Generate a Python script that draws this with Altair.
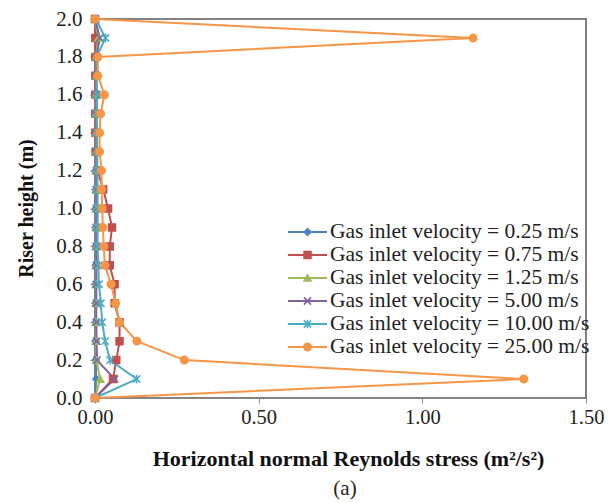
import altair as alt
import pandas as pd

heights = [0.0, 0.1, 0.2, 0.3, 0.4, 0.5, 0.6, 0.7, 0.8, 0.9, 1.0,
           1.1, 1.2, 1.3, 1.4, 1.5, 1.6, 1.7, 1.8, 1.9, 2.0]

labels = [
    "Gas inlet velocity = 0.25 m/s",
    "Gas inlet velocity = 0.75 m/s",
    "Gas inlet velocity = 1.25 m/s",
    "Gas inlet velocity = 5.00 m/s",
    "Gas inlet velocity = 10.00 m/s",
    "Gas inlet velocity = 25.00 m/s",
]

v_025 = [0.0, 0.004, 0.002, 0.002, 0.002, 0.002, 0.002, 0.002, 0.002, 0.002, 0.002,
         0.002, 0.002, 0.002, 0.002, 0.002, 0.002, 0.002, 0.002, 0.005, 0.0]
v_075 = [0.0, 0.055, 0.065, 0.075, 0.075, 0.060, 0.060, 0.045, 0.045, 0.052, 0.040,
         0.025, 0.008, 0.002, 0.001, 0.001, 0.001, 0.001, 0.001, 0.001, 0.0]
v_125 = [0.0, 0.016, 0.004, 0.003, 0.003, 0.003, 0.003, 0.003, 0.003, 0.003, 0.003,
         0.003, 0.003, 0.003, 0.003, 0.003, 0.003, 0.003, 0.003, 0.010, 0.0]
v_500 = [0.0, 0.060, 0.006, 0.005, 0.004, 0.004, 0.004, 0.004, 0.004, 0.004, 0.004,
         0.004, 0.004, 0.004, 0.004, 0.004, 0.004, 0.004, 0.004, 0.015, 0.0]
v_1000 = [0.0, 0.127, 0.046, 0.031, 0.022, 0.018, 0.012, 0.010, 0.008, 0.008, 0.008,
          0.008, 0.007, 0.007, 0.006, 0.006, 0.006, 0.005, 0.005, 0.032, 0.002]
v_2500 = [0.0, 1.31, 0.273, 0.128, 0.075, 0.063, 0.049, 0.030, 0.027, 0.024, 0.022,
          0.020, 0.020, 0.014, 0.014, 0.017, 0.029, 0.009, 0.009, 1.155, 0.0]

series_values = [v_025, v_075, v_125, v_500, v_1000, v_2500]

x_ticks = [0.0, 0.5, 1.0, 1.5]
y_ticks = [0.0, 0.2, 0.4, 0.6, 0.8, 1.0, 1.2, 1.4, 1.6, 1.8, 2.0]

rows = []
for lab, vals in zip(labels, series_values):
    for h, v in zip(heights, vals):
        rows.append({"series": lab, "h": h, "v": v})
df = pd.DataFrame(rows)
leg_df = pd.DataFrame({"series": labels})
cap_df = pd.DataFrame({"t": ["(a)"]})

FONT = "Liberation Serif"
colors = ["#4F81BD", "#C0504D", "#9BBB59", "#8064A2", "#4BACC6", "#F79646"]
X_PATH = "M-1,-1L1,1M-1,1L1,-1"
STAR_PATH = "M-1,-1L1,1M-1,1L1,-1M0,-1.2L0,1.2"
shapes = ["diamond", "square", "triangle-up", X_PATH, STAR_PATH, "circle"]
sizes = [45, 55, 60, 45, 60, 85]

color_scale = alt.Scale(domain=labels, range=colors)
shape_scale = alt.Scale(domain=labels, range=shapes)
size_scale = alt.Scale(domain=labels, range=sizes)

x_enc = alt.X(
    "v:Q",
    scale=alt.Scale(domain=[0, 1.5], nice=False),
    axis=alt.Axis(values=x_ticks, format=".2f", labelFlush=False, labelFontSize=20.5,
                  title="Horizontal normal Reynolds stress (m²/s²)",
                  labelPadding=4, titleX=253, titleY=67, titleFontSize=22,
                  titleBaseline="alphabetic", titleAlign="center"),
)
y_axis = alt.Axis(values=y_ticks, format=".1f", title="Riser height (m)",
                  labelFlush=False, labelPadding=8, titleX=-63, titleY=189,
                  titleAngle=270, titleFontSize=20,
                  titleBaseline="alphabetic", titleAlign="center")
y_line = alt.Y("h:Q", scale=alt.Scale(domain=[0, 2], nice=False), axis=y_axis)
y_pts = alt.Y("h:Q", scale=alt.Scale(domain=[0, 2], nice=False), axis=None)

lines = alt.Chart(df).mark_line(strokeWidth=2).encode(
    x=x_enc, y=y_line,
    color=alt.Color("series:N", scale=color_scale, legend=None),
    order=alt.Order("h:Q"),
)

pt_common = dict(
    fill=alt.Fill("series:N", scale=color_scale, legend=None),
    stroke=alt.Stroke("series:N", scale=color_scale, legend=None),
    shape=alt.Shape("series:N", scale=shape_scale, legend=None),
    size=alt.Size("series:N", scale=size_scale, legend=None),
)

points = alt.Chart(df).mark_point(filled=True, opacity=1, strokeWidth=1.6).encode(
    x=alt.X("v:Q"), y=y_pts, **pt_common
)

leg_y = alt.Y("series:N", sort=labels,
              scale=alt.Scale(type="point", range=[213, 328], padding=0), axis=None)

leg_rule = alt.Chart(leg_df).mark_rule(strokeWidth=2).encode(
    x=alt.value(193), x2=alt.value(232), y=leg_y,
    color=alt.Color("series:N", scale=color_scale, legend=None),
)
leg_pts = alt.Chart(leg_df).mark_point(filled=True, opacity=1, strokeWidth=1.6).encode(
    x=alt.value(212.5), y=leg_y, **pt_common
)
leg_txt = alt.Chart(leg_df).mark_text(
    align="left", baseline="middle", font=FONT, fontSize=21.5, color="#222222"
).encode(x=alt.value(235), y=leg_y, text="series:N")

caption = alt.Chart(cap_df).mark_text(
    align="center", baseline="middle", font=FONT, fontSize=21, color="#222222"
).encode(x=alt.value(250), y=alt.value(470), text="t:N")

chart = (
    alt.layer(lines, points, leg_rule, leg_pts, leg_txt, caption)
    .resolve_scale(y="independent")
    .properties(
        width=491, height=379,
        autosize=alt.AutoSizeParams(type="none"),
        padding={"left": 87, "top": 11, "right": 18, "bottom": 105},
    )
    .configure_view(stroke="#595959", strokeWidth=1.5)
    .configure_axis(
        labelFont=FONT, labelFontSize=21, labelColor="#222222",
        titleFont=FONT, titleFontSize=21, titleFontWeight="bold", titleColor="#111111",
        domainColor="#868686", tickColor="#868686", tickSize=5, grid=False,
    )
)

chart.save("out.html", embed_options={"renderer": "svg", "actions": False})
